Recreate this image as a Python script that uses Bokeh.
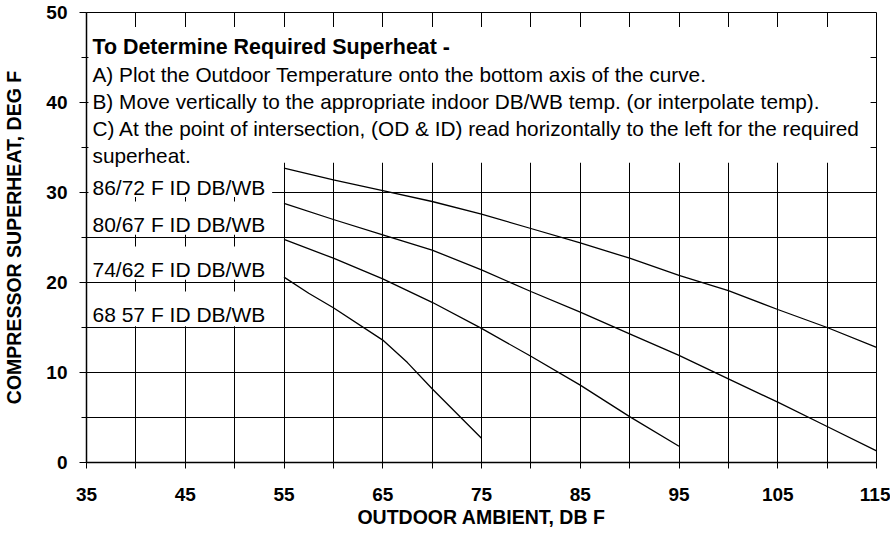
from bokeh.plotting import figure
from bokeh.models import Range1d, FixedTicker, Label, BoxAnnotation
from bokeh.embed import file_html
from bokeh.resources import INLINE

# ---- data ----
od_86 = [55, 60, 65, 70, 75, 80, 85, 90, 95, 100, 105, 110, 115]
sh_86 = [32.7, 31.4, 30.2, 29.0, 27.6, 26.0, 24.4, 22.7, 20.8, 19.1, 17.0, 15.0, 12.8]
od_80 = [55, 60, 65, 70, 75, 80, 85, 90, 95, 100, 105, 110, 115]
sh_80 = [28.8, 27.0, 25.3, 23.6, 21.4, 19.0, 16.7, 14.3, 11.9, 9.3, 6.7, 4.0, 1.3]
od_74 = [55, 60, 65, 70, 75, 80, 85, 90, 95]
sh_74 = [24.8, 22.7, 20.4, 17.8, 14.9, 11.8, 8.6, 5.1, 1.8]
od_68 = [55, 57.5, 60, 65, 67.5, 70, 75]
sh_68 = [20.6, 18.8, 17.2, 13.6, 11.1, 8.2, 2.7]

curve_labels = ["86/72 F ID DB/WB", "80/67 F ID DB/WB", "74/62 F ID DB/WB", "68 57 F ID DB/WB"]
instr_title = "To Determine Required Superheat -"
instr_lines = [
    "A) Plot the Outdoor Temperature onto the bottom axis of the curve.",
    "B) Move vertically to the appropriate indoor DB/WB temp. (or interpolate temp).",
    "C) At the point of intersection, (OD & ID) read horizontally to the left for the required",
    "superheat.",
]
x_major = [35, 45, 55, 65, 75, 85, 95, 105, 115]
x_minor = [40, 50, 60, 70, 80, 90, 100, 110]
y_major = [0, 10, 20, 30, 40, 50]
y_minor = [5, 15, 25, 35, 45]
x_grid = [35, 40, 45, 50, 55, 60, 65, 70, 75, 80, 85, 90, 95, 100, 105, 110, 115]
y_grid = [0, 5, 10, 15, 20, 25, 30, 35, 40, 45, 50]

FONT = "Liberation Sans"

p = figure(width=890, height=535, output_backend="svg", toolbar_location=None,
           x_range=Range1d(35, 115), y_range=Range1d(0, 50),
           min_border_left=82, min_border_right=14, min_border_top=12, min_border_bottom=73)
p.background_fill_color = "white"
p.border_fill_color = "white"
p.outline_line_color = "black"
p.outline_line_width = 1

for ax in (p.xaxis[0], p.yaxis[0]):
    ax.axis_line_color = "black"
    ax.axis_line_width = 1.5
    ax.major_tick_line_color = "black"
    ax.minor_tick_line_color = "black"
    ax.major_tick_in = 0
    ax.minor_tick_in = 0
    ax.major_label_text_font = FONT
    ax.major_label_text_font_style = "bold"
    ax.major_label_text_font_size = "19px"
    ax.major_label_text_color = "black"
    ax.axis_label_text_font = FONT
    ax.axis_label_text_font_style = "bold"
    ax.axis_label_text_font_size = "19.5px"
    ax.axis_label_text_color = "black"

p.xaxis.ticker = FixedTicker(ticks=x_major, minor_ticks=x_minor)
p.xaxis.major_tick_out = 6
p.xaxis.minor_tick_out = 6
p.xaxis.major_label_standoff = 19
p.xaxis.axis_label = "OUTDOOR AMBIENT, DB F"
p.xaxis.axis_label_standoff = 2

p.yaxis.ticker = FixedTicker(ticks=y_major, minor_ticks=y_minor)
p.yaxis.major_tick_out = 7
p.yaxis.minor_tick_out = 5
p.yaxis.major_label_standoff = 12
p.yaxis.axis_label = "COMPRESSOR SUPERHEAT, DEG F"
p.yaxis.axis_label_standoff = 18

p.xgrid.ticker = FixedTicker(ticks=x_grid)
p.ygrid.ticker = FixedTicker(ticks=y_grid)
for g in (p.xgrid[0], p.ygrid[0]):
    g.grid_line_color = "black"
    g.grid_line_alpha = 1
    g.grid_line_width = 1

for xs, ys in ((od_86, sh_86), (od_80, sh_80), (od_74, sh_74), (od_68, sh_68)):
    p.line(xs, ys, line_color="black", line_width=1.3)

# white boxes behind the texts
boxes = [
    dict(left=35.2, right=114.4, top=48.4, bottom=33.3),
    dict(left=35.2, right=53.8, top=33.4, bottom=29.5),
    dict(left=35.2, right=53.8, top=29.0, bottom=25.3),
    dict(left=35.2, right=53.8, top=24.0, bottom=20.3),
    dict(left=35.2, right=53.8, top=19.0, bottom=15.15),
]
for b in boxes:
    p.add_layout(BoxAnnotation(fill_color="white", fill_alpha=1, line_alpha=0, **b))

p.add_layout(Label(x=35, y=46.15, x_offset=6, text=instr_title, text_font=FONT,
                   text_font_style="bold", text_font_size="21.4px", text_color="black",
                   text_baseline="alphabetic"))
instr_y = [43.1, 40.1, 37.1, 34.1]
for t, yy in zip(instr_lines, instr_y):
    p.add_layout(Label(x=35, y=yy, x_offset=6, text=t, text_font=FONT,
                       text_font_size="20.8px", text_color="black", text_baseline="alphabetic"))
label_y = [30.6, 26.5, 21.5, 16.4]
for t, yy in zip(curve_labels, label_y):
    p.add_layout(Label(x=35, y=yy, x_offset=6, text=t, text_font=FONT,
                       text_font_size="21px", text_color="black", text_baseline="alphabetic"))

open("out.html", "w").write(file_html(p, INLINE))
